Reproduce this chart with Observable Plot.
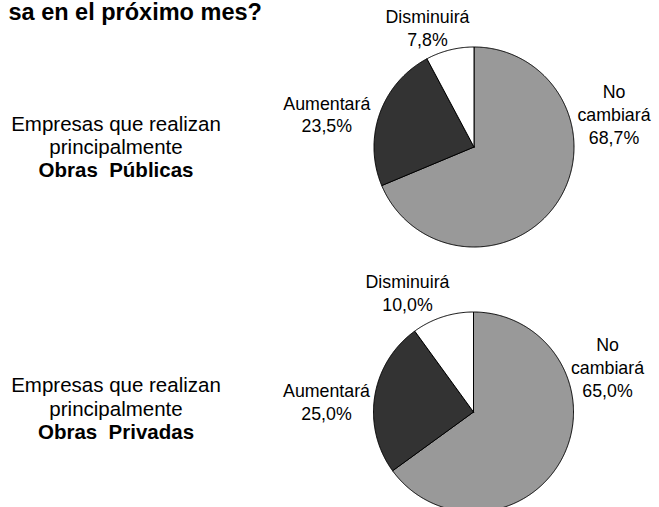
<!DOCTYPE html>
<html>
<head>
<meta charset="utf-8">
<script src="https://cdn.jsdelivr.net/npm/d3@7"></script>
<script src="https://cdn.jsdelivr.net/npm/@observablehq/plot@0.6"></script>
<style>
  html, body { margin: 0; padding: 0; background: #fff; }
  #chart svg { display: block; }
</style>
</head>
<body>
<div id="chart"></div>
<script>
// ---- data ----
const title = "sa en el próximo mes?";
const categories = ["No cambiará", "Aumentará", "Disminuirá"];
const publicas = [68.7, 23.5, 7.8];
const privadas = [65.0, 25.0, 10.0];
const groupIntro = "Empresas que realizan\nprincipalmente";
const groups = ["Obras\u00a0\u00a0Públicas", "Obras\u00a0\u00a0Privadas"];
const sliceColors = ["#999999", "#333333", "#ffffff"];

// ---- layout (pixels) ----
const W = 659, H = 507, R = 100;
const pieCenters = [[473.5, 146.5], [473, 411.5]];
// label anchor offsets from each pie centre (pixels): [dx, last-line baseline dy]
const labelOffsets = [
  [[140, -3.5], [-147.2, -14.8], [-46.5, -101.5]],
  [[134, -15.5], [-147, 7.8], [-66, -101.5]]
];
const groupLabelX = 115.5;
const groupBaseline = [153.3, 415];
const lh = 23.3;

// unit coordinates: 1 unit = pie radius; origin at first pie centre
const ox = pieCenters[0][0], oy = pieCenters[0][1];
const ux = px => (px - ox) / R;
const uy = py => (py - oy) / R;

const fmt = v => v.toFixed(1).replace(".", ",") + "%";

const polys = [];
const pieLabels = [];
[publicas, privadas].forEach((values, p) => {
  const cx = ux(pieCenters[p][0]), cy = uy(pieCenters[p][1]);
  const arcs = d3.pie().sort(null).value(d => d)(values);
  arcs.forEach((a, i) => {
    const key = p + "-" + i;
    const n = Math.max(2, Math.ceil((a.endAngle - a.startAngle) / (Math.PI / 360)));
    polys.push({key, x: cx, y: cy, color: sliceColors[i]});
    for (let k = 0; k <= n; ++k) {
      const t = a.startAngle + (a.endAngle - a.startAngle) * k / n;
      polys.push({key, x: cx + Math.sin(t), y: cy - Math.cos(t), color: sliceColors[i]});
    }
    polys.push({key, x: cx, y: cy, color: sliceColors[i]});
    const off = labelOffsets[p][i];
    pieLabels.push({
      x: cx + off[0] / R,
      y: cy + off[1] / R,
      text: categories[i].replace(" ", "\n") + "\n" + fmt(values[i])
    });
  });
});

const font = "'Liberation Sans', Arial, Helvetica, sans-serif";

const chart = Plot.plot({
  width: W,
  height: H,
  margin: 0,
  x: {domain: [ux(0), ux(W)], axis: null},
  y: {domain: [uy(H), uy(0)], axis: null},
  color: {type: "identity"},
  style: {fontFamily: font, background: "#fff", color: "#000", overflow: "visible"},
  marks: [
    Plot.line(polys, {
      x: "x", y: "y", z: "key", fill: "color",
      stroke: "#000", strokeWidth: 1, curve: "linear", strokeLinejoin: "miter"
    }),
    Plot.text(pieLabels, {
      x: "x", y: "y", text: "text", textAnchor: "middle", lineAnchor: "bottom",
      fontSize: 17.8, lineHeight: 1.27, fill: "#000", fontFamily: font
    }),
    Plot.text([0, 1], {
      x: () => ux(groupLabelX), y: p => uy(groupBaseline[p]), text: () => groupIntro,
      textAnchor: "middle", lineAnchor: "bottom", fontSize: 20.5, lineHeight: lh / 20.5,
      fill: "#000", fontFamily: font
    }),
    Plot.text([0, 1], {
      x: () => ux(groupLabelX), y: p => uy(groupBaseline[p] + lh), text: p => groups[p],
      textAnchor: "middle", lineAnchor: "bottom", fontSize: 20.5, fontWeight: "bold",
      fill: "#000", fontFamily: font
    }),
    Plot.text([title], {
      x: () => ux(8), y: () => uy(19.5), text: d => d,
      textAnchor: "start", lineAnchor: "bottom", fontSize: 23.5, fontWeight: "bold",
      fill: "#000", fontFamily: font
    })
  ]
});
document.getElementById("chart").appendChild(chart);
</script>
</body>
</html>
